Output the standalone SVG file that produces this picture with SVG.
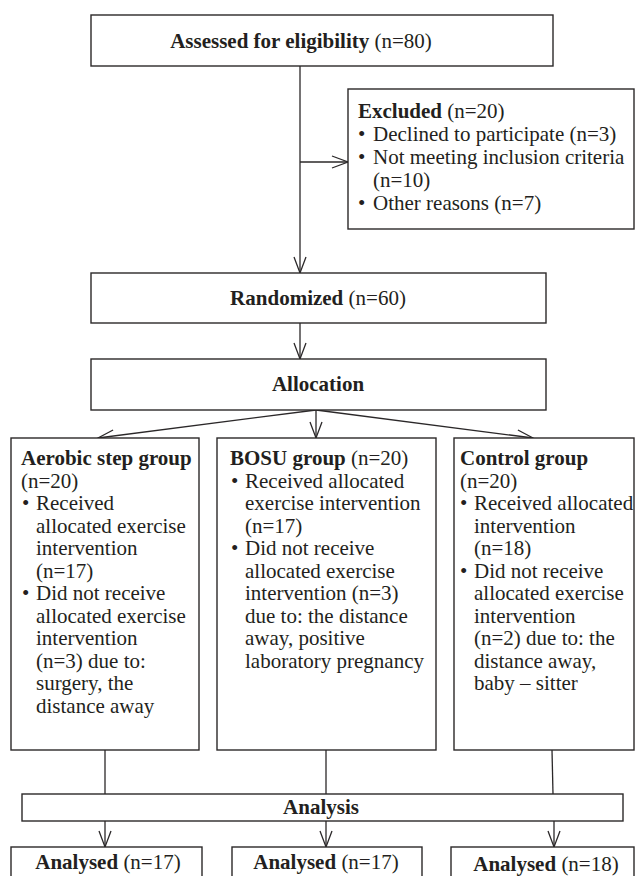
<svg xmlns="http://www.w3.org/2000/svg" width="635" height="876" viewBox="0 0 635 876">
<style>
.box{fill:#fff;stroke:#2b2829;stroke-width:1.4}
.t{font-family:"Liberation Serif","Times New Roman",serif;font-size:21px;fill:#231f20}
.b{font-weight:bold}
.c{text-anchor:middle}
.ln{fill:none;stroke:#2b2829;stroke-width:1.3}
</style>
<defs>
<marker id="ah" markerUnits="userSpaceOnUse" markerWidth="20" markerHeight="16" viewBox="-18 -8 20 16" refX="0" refY="0" orient="auto">
<path d="M-16,-6 L0,0 L-16,6" fill="none" stroke="#2b2829" stroke-width="1.3"/>
</marker>
</defs>
<rect width="635" height="876" fill="#fff"/>

<g id="connectors">
<line class="ln" x1="300" y1="66" x2="300" y2="273" marker-end="url(#ah)"/>
<line class="ln" x1="300" y1="162" x2="348" y2="162" marker-end="url(#ah)"/>
<line class="ln" x1="300" y1="323" x2="300" y2="359" marker-end="url(#ah)"/>
<line class="ln" x1="316" y1="410" x2="98" y2="438" marker-end="url(#ah)"/>
<line class="ln" x1="316" y1="410" x2="316" y2="438" marker-end="url(#ah)"/>
<line class="ln" x1="316" y1="410" x2="533" y2="438" marker-end="url(#ah)"/>
<line class="ln" x1="105" y1="750" x2="105" y2="794"/>
<line class="ln" x1="326" y1="750" x2="326" y2="794"/>
<line class="ln" x1="552" y1="750" x2="553" y2="794"/>
<line class="ln" x1="105" y1="821" x2="105" y2="847" marker-end="url(#ah)"/>
<line class="ln" x1="326" y1="821" x2="326" y2="847" marker-end="url(#ah)"/>
<line class="ln" x1="554" y1="821" x2="554" y2="847" marker-end="url(#ah)"/>
</g>

<g id="assessed">
<rect class="box" x="91" y="15" width="462" height="51"/>
<text class="t c" x="301" y="48"><tspan class="b">Assessed for eligibility</tspan> (n=80)</text>
</g>

<g id="excluded">
<rect class="box" x="348" y="89" width="286" height="140"/>
<text class="t" x="358" y="118"><tspan class="b">Excluded</tspan> (n=20)</text>
<text class="t" x="358" y="141">• <tspan x="373">Declined to participate (n=3)</tspan></text>
<text class="t" x="358" y="164">• <tspan x="373">Not meeting inclusion criteria</tspan></text>
<text class="t" x="373" y="187">(n=10)</text>
<text class="t" x="358" y="210">• <tspan x="373">Other reasons (n=7)</tspan></text>
</g>

<g id="randomized">
<rect class="box" x="91" y="273" width="455" height="50"/>
<text class="t c" x="318" y="305"><tspan class="b">Randomized</tspan> (n=60)</text>
</g>

<g id="allocation">
<rect class="box" x="91" y="359" width="455" height="51"/>
<text class="t c b" x="318" y="391">Allocation</text>
</g>

<g id="aerobic">
<rect class="box" x="11" y="438" width="188" height="312"/>
<text class="t b" x="21" y="465">Aerobic step group</text>
<text class="t" x="21" y="487.5">(n=20)</text>
<text class="t" x="22" y="510">• <tspan x="36">Received</tspan></text>
<text class="t" x="36" y="532.5">allocated exercise</text>
<text class="t" x="36" y="555">intervention</text>
<text class="t" x="36" y="577.5">(n=17)</text>
<text class="t" x="22" y="600">• <tspan x="36">Did not receive</tspan></text>
<text class="t" x="36" y="622.5">allocated exercise</text>
<text class="t" x="36" y="645">intervention</text>
<text class="t" x="36" y="667.5">(n=3) due to:</text>
<text class="t" x="36" y="690">surgery, the</text>
<text class="t" x="36" y="712.5">distance away</text>
</g>

<g id="bosu">
<rect class="box" x="217" y="438" width="219" height="312"/>
<text class="t" x="230" y="465"><tspan class="b">BOSU group</tspan> (n=20)</text>
<text class="t" x="231" y="487.5">• <tspan x="245">Received allocated</tspan></text>
<text class="t" x="245" y="510">exercise intervention</text>
<text class="t" x="245" y="532.5">(n=17)</text>
<text class="t" x="231" y="555">• <tspan x="245">Did not receive</tspan></text>
<text class="t" x="245" y="577.5">allocated exercise</text>
<text class="t" x="245" y="600">intervention (n=3)</text>
<text class="t" x="245" y="622.5">due to: the distance</text>
<text class="t" x="245" y="645">away, positive</text>
<text class="t" x="245" y="667.5">laboratory pregnancy</text>
</g>

<g id="control">
<rect class="box" x="454" y="438" width="180" height="312"/>
<text class="t b" x="460" y="465">Control group</text>
<text class="t" x="460" y="487.5">(n=20)</text>
<text class="t" x="460" y="510">• <tspan x="474">Received allocated</tspan></text>
<text class="t" x="474" y="532.5">intervention</text>
<text class="t" x="474" y="555">(n=18)</text>
<text class="t" x="460" y="577.5">• <tspan x="474">Did not receive</tspan></text>
<text class="t" x="474" y="600">allocated exercise</text>
<text class="t" x="474" y="622.5">intervention</text>
<text class="t" x="474" y="645">(n=2) due to: the</text>
<text class="t" x="474" y="667.5">distance away,</text>
<text class="t" x="474" y="690">baby – sitter</text>
</g>

<g id="analysis">
<rect class="box" x="22" y="794" width="601" height="27"/>
<text class="t c b" x="321" y="814">Analysis</text>
</g>

<g id="analysed1">
<rect class="box" x="11" y="847" width="191" height="40"/>
<text class="t c" x="108" y="869"><tspan class="b">Analysed</tspan> (n=17)</text>
</g>
<g id="analysed2">
<rect class="box" x="232" y="847" width="190" height="40"/>
<text class="t c" x="326" y="869"><tspan class="b">Analysed</tspan> (n=17)</text>
</g>
<g id="analysed3">
<rect class="box" x="451" y="847" width="183" height="40"/>
<text class="t c" x="546" y="871"><tspan class="b">Analysed</tspan> (n=18)</text>
</g>
</svg>
